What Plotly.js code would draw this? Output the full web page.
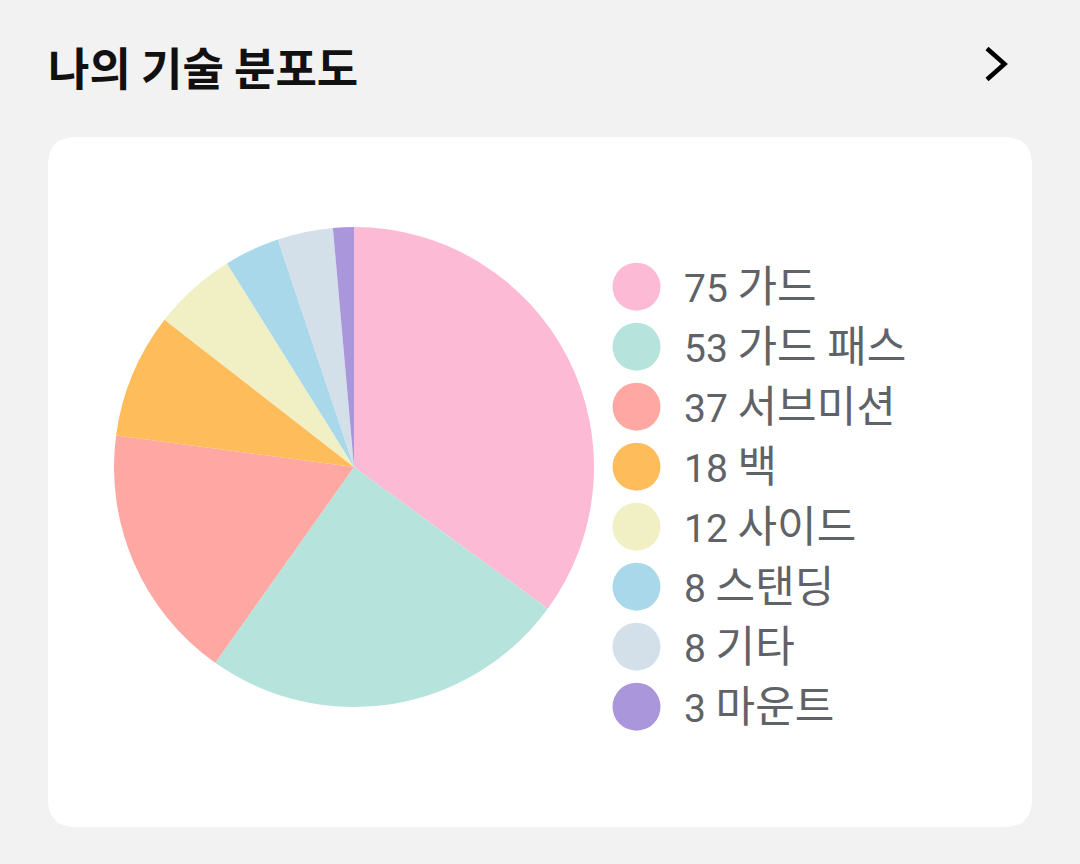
<!DOCTYPE html>
<html>
<head>
<meta charset="utf-8">
<script src="https://cdn.plot.ly/plotly-3.0.1.min.js"></script>
<style>html,body{margin:0;padding:0;background:#f2f2f2;}#chart{width:1080px;height:864px;}</style>
</head>
<body>
<div id="chart"></div>
<script>
const categories = ["가드", "가드 패스", "서브미션", "백", "사이드", "스탠딩", "기타", "마운트"];
const counts = [75, 53, 37, 18, 12, 8, 8, 3];
const colors = ["#FDBAD5", "#B6E3DB", "#FFA8A3", "#FEBD5A", "#F0F0C4", "#A8D8EA", "#D3E0EA", "#AA96DA"];
const chartTitle = "나의 기술 분포도";

const W = 1080, H = 864;
const pieCx = 354, pieCy = 467, pieR = 240;
const legX = 636.5, legTextX = 682, legY0 = 286.7, legStep = 60;

const legendLabels = categories.map((c, i) => counts[i] + " <span style=\"font-size:43px\">" + c + "</span>");
const legendY = categories.map((c, i) => legY0 + i * legStep);

const pie = {
  type: "pie",
  values: counts,
  labels: categories,
  sort: false,
  direction: "clockwise",
  rotation: 0,
  textinfo: "none",
  hoverinfo: "none",
  showlegend: false,
  marker: { colors: colors, line: { width: 0 } },
  domain: {
    x: [(pieCx - pieR) / W, (pieCx + pieR) / W],
    y: [1 - (pieCy + pieR) / H, 1 - (pieCy - pieR) / H]
  }
};

const legendDots = {
  type: "scatter",
  mode: "markers",
  x: categories.map(() => legX),
  y: legendY,
  xaxis: "x2",
  yaxis: "y2",
  hoverinfo: "skip",
  showlegend: false,
  marker: { size: 48, color: colors, line: { width: 0 } }
};

function roundRect(x0, y0, x1, y1, r) {
  return `M${x0 + r},${y0} L${x1 - r},${y0} Q${x1},${y0} ${x1},${y0 + r} ` +
    `L${x1},${y1 - r} Q${x1},${y1} ${x1 - r},${y1} L${x0 + r},${y1} ` +
    `Q${x0},${y1} ${x0},${y1 - r} L${x0},${y0 + r} Q${x0},${y0} ${x0 + r},${y0} Z`;
}

const annotations = legendLabels.map((t, i) => ({
  xref: "x2", yref: "y2",
  x: legTextX, y: legendY[i],
  xanchor: "left", yanchor: "middle",
  text: t, showarrow: false,
  font: { family: "Roboto, 'Noto Sans CJK KR', sans-serif", size: 39, color: "#5f6368" }
}));
annotations.push({
  xref: "x2", yref: "y2",
  x: 46, y: 66,
  xanchor: "left", yanchor: "middle",
  text: "<b>" + chartTitle + "</b>", showarrow: false,
  font: { family: "'Noto Sans CJK KR', sans-serif", size: 45, color: "#111111" }
});

const layout = {
  width: W, height: H,
  margin: { l: 0, r: 0, t: 0, b: 0 },
  paper_bgcolor: "#f2f2f2",
  plot_bgcolor: "rgba(0,0,0,0)",
  showlegend: false,
  xaxis2: { domain: [0, 1], range: [0, W], visible: false, fixedrange: true, anchor: "y2" },
  yaxis2: { domain: [0, 1], range: [H, 0], visible: false, fixedrange: true, anchor: "x2" },
  shapes: [
    {
      type: "path", xref: "x2", yref: "y2", layer: "below",
      path: roundRect(48, 137, 1032, 827, 28),
      fillcolor: "#ffffff", line: { width: 0 }
    },
    {
      type: "path", xref: "x2", yref: "y2", layer: "above",
      path: "M987,48.5 L1004.5,64 L987,79.5",
      line: { color: "#000000", width: 4.5 }
    }
  ],
  annotations: annotations
};

Plotly.newPlot("chart", [legendDots, pie], layout, { staticPlot: true, displayModeBar: false });
</script>
</body>
</html>
